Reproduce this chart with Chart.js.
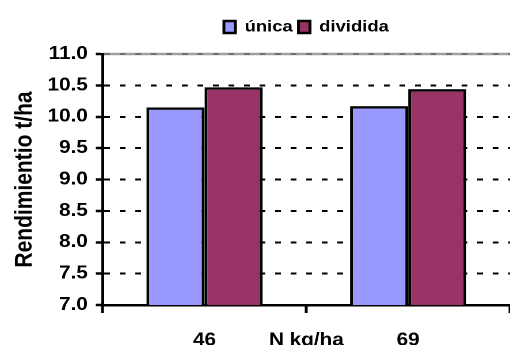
<!DOCTYPE html>
<html>
<head>
<meta charset="utf-8">
<script src="https://cdn.jsdelivr.net/npm/chart.js@4.4.1/dist/chart.umd.min.js"></script>
<style>
    html, body { margin: 0; padding: 0; background: #fff; overflow: hidden; }
    #yieldChart {
        display: block;
        transform: scaleX(1.1512);
        transform-origin: 0 0;
    }
</style>
</head>
<body>
<canvas id="yieldChart" width="443" height="345"></canvas>
<script>
const doses = ['46', '69'];
const unica = [10.15, 10.17];
const dividida = [10.47, 10.44];
const yMin = 7.0;
const yMax = 11.0;
const yStep = 0.5;

const FONT = "'Liberation Sans', Arial, sans-serif";

// extra room between the legend and the plot
const legendGap = {
    id: 'legendGap',
    beforeInit(chart) {
        const fit = chart.legend.fit;
        chart.legend.fit = function () {
            fit.call(this);
            this.height += 9;
        };
    }
};

// grey frame line along the top of the plot
const topLine = {
    id: 'topLine',
    beforeDraw(chart) {
        const { ctx, chartArea } = chart;
        const y = chart.scales.y.getPixelForValue(yMax);
        ctx.save();
        ctx.strokeStyle = '#a0a0a0';
        ctx.lineWidth = 2.5;
        ctx.beginPath();
        ctx.moveTo(chartArea.left, y);
        ctx.lineTo(chartArea.right, y);
        ctx.stroke();
        ctx.restore();
    }
};

function createYieldChart(ctx) {
    return new Chart(ctx, {
        type: 'bar',
        data: {
            labels: doses,
            datasets: [{
                label: 'única',
                data: unica,
                backgroundColor: '#9999ff',
                borderColor: '#000',
                borderWidth: 2.5
            }, {
                label: 'dividida',
                data: dividida,
                backgroundColor: '#993366',
                borderColor: '#000',
                borderWidth: 2.5
            }]
        },
        options: {
            responsive: false,
            devicePixelRatio: 2,
            animation: false,
            layout: { padding: { top: 14, left: 0, right: 0, bottom: 0 } },
            datasets: {
                bar: { barPercentage: 1, categoryPercentage: 0.571 }
            },
            plugins: {
                tooltip: { enabled: false },
                legend: {
                    position: 'top',
                    fullSize: false,
                    labels: {
                        boxWidth: 10,
                        boxHeight: 12,
                        padding: 5,
                        color: '#000',
                        font: { family: FONT, size: 16, weight: 'bold' }
                    }
                }
            },
            scales: {
                x: {
                    offset: true,
                    grid: {
                        offset: true,
                        drawOnChartArea: false,
                        drawTicks: true,
                        tickLength: 8,
                        tickColor: '#000',
                        tickWidth: 2.5
                    },
                    border: { display: true, color: '#000', width: 2.5 },
                    ticks: {
                        padding: 16.7,
                        color: '#000',
                        font: { family: FONT, size: 18, weight: 'bold' }
                    },
                    // the axis title sits on the same line as the tick labels
                    title: {
                        display: true,
                        text: 'N kg/ha',
                        color: '#000',
                        padding: { top: -38.3, bottom: -6.3 },
                        font: { family: FONT, size: 18, weight: 'bold' }
                    }
                },
                y: {
                    min: yMin,
                    max: yMax,
                    grid: {
                        color: c => (c.tick && c.tick.value === yMax) ? '#707070' : '#000',
                        lineWidth: 2,
                        drawTicks: true,
                        tickLength: 6,
                        tickColor: '#000',
                        tickWidth: 2.5,
                        tickBorderDash: []
                    },
                    border: { display: true, color: '#000', width: 2.5, dash: [5, 8.5] },
                    ticks: {
                        stepSize: yStep,
                        padding: 7,
                        color: '#000',
                        font: { family: FONT, size: 18, weight: 'bold' },
                        callback: value => value.toFixed(1)
                    },
                    title: {
                        display: true,
                        text: 'Rendimientio t/ha',
                        color: '#000',
                        padding: { top: 9, bottom: 0 },
                        font: { family: FONT, size: 21, weight: 'bold' }
                    }
                }
            }
        },
        plugins: [legendGap, topLine]
    });
}

document.addEventListener('DOMContentLoaded', function () {
    const ctx = document.getElementById('yieldChart').getContext('2d');
    createYieldChart(ctx);
});
</script>
</body>
</html>
